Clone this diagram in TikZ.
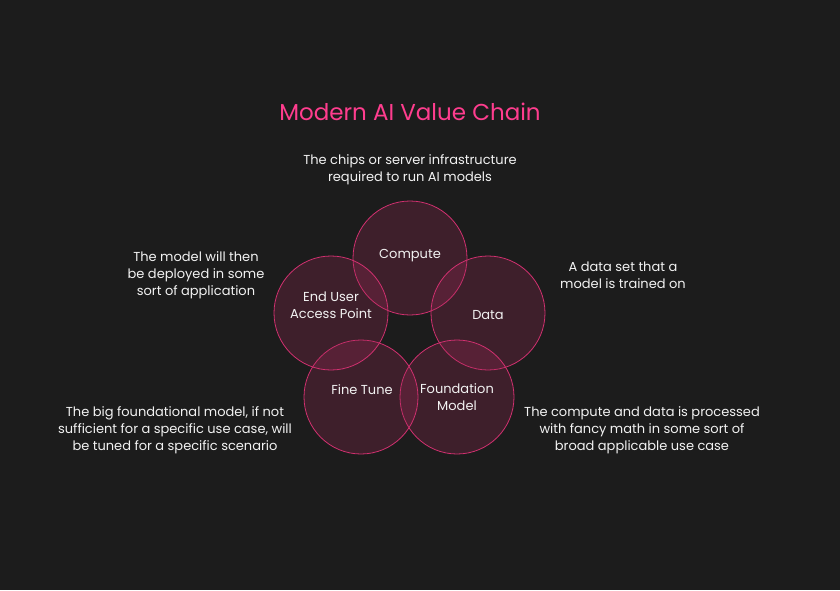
\documentclass[tikz,border=0pt]{standalone}
\usepackage{fontspec}
\setmainfont{Poppins}
\usepackage{tikz}
\usetikzlibrary{positioning}
\definecolor{pageBg}{HTML}{1C1C1C}
\definecolor{chainPink}{HTML}{FF3D8E}
\definecolor{ringLine}{HTML}{D0306F}
\definecolor{ringFill}{HTML}{A42858}
\definecolor{ink}{HTML}{F2F2F2}

\begin{document}
\begin{tikzpicture}[
  x=1pt, y=-1pt,
  every node/.style={font=\fontsize{13}{17}\selectfont, color=ink},
  ring/.style={
    circle, draw=ringLine, line width=0.8pt, fill=ringFill, fill opacity=0.25,
    text opacity=1, minimum size=114pt, inner sep=0pt
  },
  rlabel/.style={align=center},
  note/.style={align=center}
]
% page
\fill[pageBg] (0,0) rectangle (840,590);
\useasboundingbox (0,0) rectangle (840,590);

% title
\node[font=\fontsize{23}{26}\selectfont, color=chainPink] (title) at (410,112) {Modern AI Value Chain};

% rings
\node[ring] (compute) at (410,258) {};
\node[ring] (data)    at (488,313) {};
\node[ring] (found)   at (457,397) {};
\node[ring] (tune)    at (361,397) {};
\node[ring] (enduser) at (331,313) {};

% ring labels
\node[rlabel] (lcompute) at (410,255.5) {Compute};
\node[rlabel] (ldata)    at (488,315.5) {Data};
\node[rlabel] (lfound)   at (457,397.5) {Foundation\\Model};
\node[rlabel] (ltune)    at (362,389.5) {Fine Tune};
\node[rlabel] (lenduser) at (331,305.5) {End User\\Access Point};

% notes
\node[note] (ncompute) at (410,169.5) {The chips or server infrastructure\\required to run AI models};
\node[note] (ndata)    at (623,275.5) {A data set that a\\model is trained on};
\node[note] (nfound)   at (642,430.5) {The compute and data is processed\\with fancy math in some sort of\\broad applicable use case};
\node[note] (ntune)    at (175,430.5) {The big foundational model, if not\\sufficient for a specific use case, will\\be tuned for a specific scenario};
\node[note] (nenduser) at (196,275.5) {The model will then\\be deployed in some\\sort of application};
\end{tikzpicture}
\end{document}
